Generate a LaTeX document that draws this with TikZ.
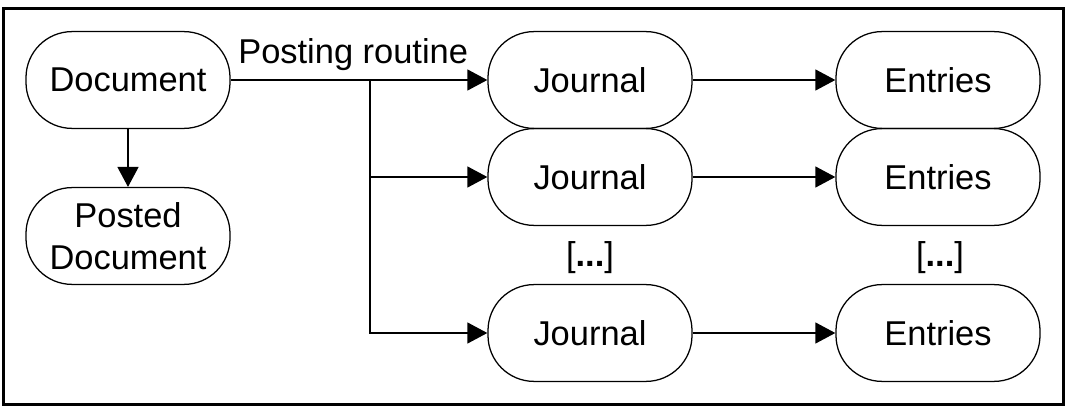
\documentclass[tikz,border=0pt]{standalone}
\usepackage{fontspec}
\setmainfont{Liberation Sans}
\usepackage{tikz}
\usepackage{xcolor}
\usetikzlibrary{arrows.meta}

\begin{document}
\begin{tikzpicture}
        \useasboundingbox (0,0) rectangle (26.725,-10.25);
        \draw[line width=2.4pt] (0.085,-0.21) rectangle (26.58,-10.12);

        \begin{scope}[every node/.style = {draw, line width=0.9pt, rounded corners=1.15cm,
                        minimum width=5.1cm, minimum height=2.42cm, align=center,
                        font=\fontsize{24.5}{30}\selectfont}]
            \node (doc)    at (3.2, -2.0)    {Document};
            \node (posted) at (3.2, -5.9)    {Posted\\Document};

            \node (jA) at (14.75, -2.0)   {Journal};
            \node (jB) at (14.75, -4.425) {Journal};
            \node (jC) at (14.75, -8.325) {Journal};

            \node (eA) at (23.45, -2.0)   {Entries};
            \node (eB) at (23.45, -4.425) {Entries};
            \node (eC) at (23.45, -8.325) {Entries};
        \end{scope}

        \begin{scope}[every node/.style={font=\fontsize{24.5}{30}\selectfont}]
            \node (dotsJ) at (14.75, -6.45) {[\textbf{...}]};
            \node (dotsE) at (23.5, -6.45)  {[\textbf{...}]};
            \node[anchor=base west, inner sep=0pt] (posting) at (5.95, -1.6) {Posting routine};
        \end{scope}

        \coordinate (split) at (9.25, -2.0);

        \begin{scope}[>={Triangle[length=0.5cm, width=0.52cm]},
                        every path/.style={line width=1.4pt}]
            \path [->] (doc) edge (posted);
            \path [->] (doc) edge (jA);
            \draw [->] (split) |- (jC);
            \path [->] (split |- jB) edge (jB);

            \path [->] (jA) edge (eA);
            \path [->] (jB) edge (eB);
            \path [->] (jC) edge (eC);
        \end{scope}
    \end{tikzpicture}
\end{document}
